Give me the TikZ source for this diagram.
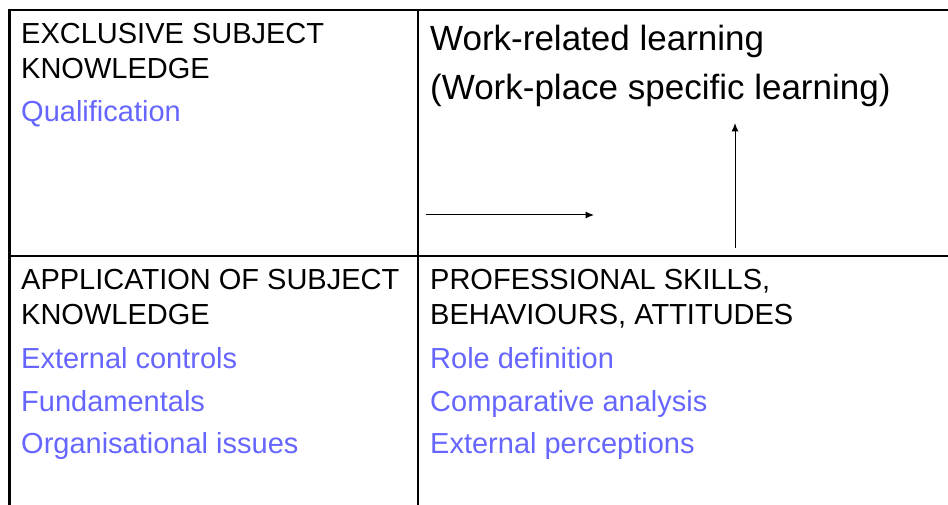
\documentclass[tikz,border=0pt]{standalone}
\usepackage{fontspec}
\setmainfont{Liberation Sans}
\usetikzlibrary{arrows.meta}
\definecolor{itemblue}{RGB}{102,102,255}
\begin{document}
\begin{tikzpicture}[x=1pt,y=-1pt,
  head/.style={anchor=base west, inner sep=0pt, font=\fontsize{29}{34}\selectfont},
  item/.style={head, text=itemblue},
  big/.style={anchor=base west, inner sep=0pt, font=\fontsize{35}{40}\selectfont},
  outer/.style={line width=2.6pt},
  inner/.style={line width=1.8pt},
  arr/.style={line width=1pt, -{Latex[length=8.5pt,width=7pt]}}]
\useasboundingbox (0,0) rectangle (948,505);
% grid
\coordinate (tl) at (9.5,10);
\coordinate (tr) at (948,10);
\coordinate (bl) at (9.5,505);
\coordinate (mt) at (418,10);
\coordinate (mb) at (418,505);
\coordinate (ml) at (9.5,256);
\coordinate (mr) at (948,256);
\draw[outer] (bl) -- (tl) -- (tr);
\draw[inner] (mt) -- (mb);
\draw[inner] (ml) -- (mr);
% upper left
\node[head] (t1) at (21,44) {EXCLUSIVE SUBJECT};
\node[head] (t2) at (21,79) {KNOWLEDGE};
\node[item] (t3) at (21,122) {Qualification};
% upper right
\node[big] (w1) at (430,51) {Work-related learning};
\node[big] (w2) at (430,100) {(Work-place specific learning)};
% lower left
\node[head] (a1) at (21,289) {APPLICATION OF SUBJECT};
\node[head] (a2) at (21,324) {KNOWLEDGE};
\node[item] (a3) at (21,368) {External controls};
\node[item] (a4) at (21,411) {Fundamentals};
\node[item] (a5) at (21,453) {Organisational issues};
% lower right
\node[head] (p1) at (430,289) {PROFESSIONAL SKILLS,};
\node[head] (p2) at (430,324) {BEHAVIOURS, ATTITUDES};
\node[item] (p3) at (430,368) {Role definition};
\node[item] (p4) at (430,411) {Comparative analysis};
\node[item] (p5) at (430,453) {External perceptions};
% arrows
\coordinate (h1) at (426,215);
\coordinate (h2) at (594,215);
\coordinate (v1) at (735,248);
\coordinate (v2) at (735,123);
\draw[arr] (h1) -- (h2);
\draw[arr] (v1) -- (v2);
\end{tikzpicture}
\end{document}
